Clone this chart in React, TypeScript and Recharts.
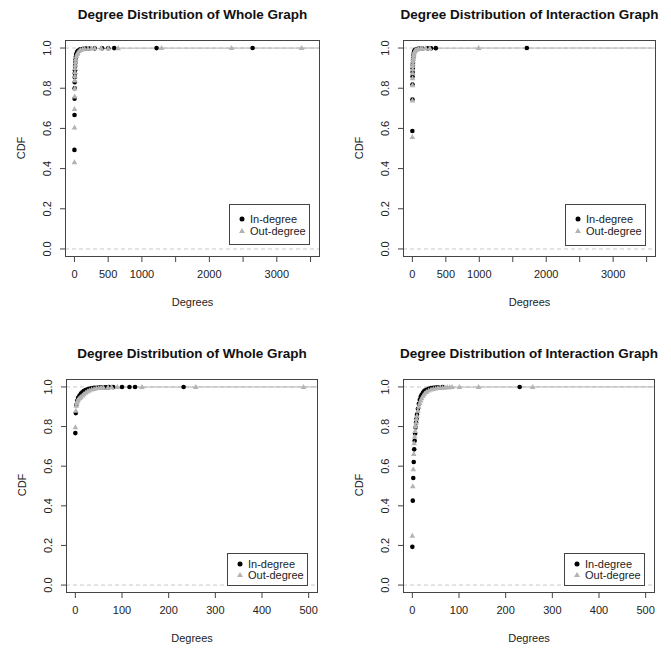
import React from "react";
import {
  ComposedChart,
  Line,
  Scatter,
  XAxis,
  YAxis,
  ReferenceLine
} from "recharts";

// ---- data (degree, CDF) ----

// top-left: whole graph, wide x range
const wholeInDeg = [0, 1, 2, 3, 4, 5, 6, 8, 10, 12, 15, 20, 25, 30, 40, 50, 60, 80, 100, 130, 170, 220, 300, 411, 500, 590, 1217, 2641];
const wholeInCdf = [0.493, 0.667, 0.748, 0.8, 0.83, 0.855, 0.875, 0.89, 0.91, 0.925, 0.94, 0.955, 0.965, 0.972, 0.98, 0.985, 0.988, 0.992, 0.994, 0.996, 0.997, 0.998, 0.9985, 0.999, 0.9993, 0.9996, 0.9998, 1];
const wholeOutDeg = [0, 1, 2, 3, 4, 5, 6, 8, 10, 12, 15, 20, 30, 40, 50, 70, 90, 120, 150, 200, 250, 300, 400, 500, 648, 1291, 2329, 3368];
const wholeOutCdf = [0.431, 0.605, 0.697, 0.759, 0.8, 0.838, 0.86, 0.88, 0.9, 0.915, 0.93, 0.945, 0.96, 0.97, 0.977, 0.985, 0.99, 0.994, 0.996, 0.997, 0.998, 0.9985, 0.999, 0.9993, 0.9995, 0.9997, 0.9998, 1];

// top-right: interaction graph, wide x range
const interInDeg = [0, 1, 2, 3, 4, 5, 6, 8, 10, 12, 15, 20, 25, 30, 40, 50, 70, 100, 150, 230, 280, 350, 1710];
const interInCdf = [0.587, 0.744, 0.818, 0.858, 0.881, 0.9, 0.915, 0.925, 0.94, 0.95, 0.96, 0.972, 0.98, 0.985, 0.99, 0.993, 0.995, 0.997, 0.998, 0.9985, 0.999, 0.9995, 1];
const interOutDeg = [0, 1, 2, 3, 4, 5, 6, 8, 10, 12, 15, 20, 25, 30, 40, 50, 70, 90, 120, 150, 200, 260, 990];
const interOutCdf = [0.557, 0.739, 0.815, 0.85, 0.875, 0.895, 0.91, 0.922, 0.935, 0.945, 0.955, 0.965, 0.973, 0.98, 0.986, 0.99, 0.993, 0.995, 0.997, 0.998, 0.999, 0.9995, 1];

// bottom-left: whole graph, x up to 500
const wholeInDeg2 = [0, 1, 2, 4, 6, 9, 12, 15, 18, 22, 26, 30, 35, 40, 45, 50, 55, 62, 67, 72, 81, 100, 116, 128, 232];
const wholeInCdf2 = [0.767, 0.868, 0.909, 0.93, 0.945, 0.957, 0.966, 0.973, 0.979, 0.984, 0.988, 0.991, 0.993, 0.995, 0.996, 0.997, 0.9975, 0.998, 0.9985, 0.9988, 0.999, 0.9993, 0.9995, 0.9997, 1];
const wholeOutDeg2 = [0, 1, 2, 3, 4, 5, 6, 8, 10, 12, 15, 18, 22, 26, 30, 35, 40, 45, 50, 55, 60, 70, 78, 90, 143, 258, 489];
const wholeOutCdf2 = [0.797, 0.88, 0.905, 0.918, 0.926, 0.932, 0.937, 0.942, 0.946, 0.95, 0.957, 0.963, 0.97, 0.977, 0.982, 0.987, 0.99, 0.993, 0.995, 0.996, 0.997, 0.998, 0.9985, 0.999, 0.9994, 0.9997, 1];

// bottom-right: interaction graph, x up to 500
const interInDeg2 = [0, 1, 2, 3, 4, 5, 6, 7, 8, 9, 10, 12, 14, 16, 18, 20, 23, 26, 30, 35, 40, 45, 50, 55, 65, 230];
const interInCdf2 = [0.193, 0.426, 0.54, 0.621, 0.685, 0.728, 0.765, 0.795, 0.82, 0.84, 0.86, 0.89, 0.915, 0.935, 0.95, 0.96, 0.972, 0.98, 0.986, 0.991, 0.994, 0.996, 0.997, 0.998, 0.999, 1];
const interOutDeg2 = [0, 1, 2, 3, 4, 5, 6, 7, 8, 9, 10, 12, 14, 16, 18, 20, 23, 26, 30, 35, 40, 45, 50, 55, 60, 65, 70, 75, 80, 85, 101, 142, 258];
const interOutCdf2 = [0.249, 0.499, 0.584, 0.662, 0.716, 0.75, 0.778, 0.8, 0.82, 0.838, 0.855, 0.88, 0.9, 0.918, 0.932, 0.943, 0.955, 0.965, 0.974, 0.982, 0.987, 0.99, 0.992, 0.994, 0.995, 0.996, 0.997, 0.998, 0.9985, 0.999, 0.9993, 0.9996, 1];

const wideTicks = [0, 500, 1000, 1500, 2000, 2500, 3000, 3500];
const wideLabelled = [0, 500, 1000, 2000, 3000];
const narrowTicks = [0, 100, 200, 300, 400, 500];
const yTicks = [0, 0.2, 0.4, 0.6, 0.8, 1.0];

const FONT = "'Liberation Sans', Arial, Helvetica, sans-serif";
const GRAY = "#b3b3b3";
const AXIS = "#444";

const pairs = (xs: number[], ys: number[]) => xs.map((x, i) => ({ x, y: ys[i] }));

// horizontal ecdf pieces only (no verticals), broken with nulls
const steps = (xs: number[], ys: number[], cap: number) =>
  xs.flatMap((x, i) =>
    i < xs.length - 1 && ys[i] < cap
      ? [{ x, y: ys[i] as number | null }, { x: xs[i + 1], y: ys[i] as number | null }, { x: xs[i + 1], y: null }]
      : []
  );

const Dot = (p: any) => <circle cx={p.cx} cy={p.cy} r={2.3} fill="#000" />;
const Tri = (p: any) => (
  <polygon
    points={`${p.cx},${p.cy - 3} ${p.cx - 2.8},${p.cy + 2} ${p.cx + 2.8},${p.cy + 2}`}
    fill={GRAY}
  />
);

const YTick = (p: any) => {
  const x = p.x - 9;
  const y = p.y;
  return (
    <text x={x} y={y} transform={`rotate(-90, ${x}, ${y})`} textAnchor="middle" fontSize={11} fill="#222" fontFamily={FONT}>
      {p.payload.value.toFixed(1)}
    </text>
  );
};

interface PanelProps {
  title: string;
  bx: number;
  by: number;
  bw: number;
  bh: number;
  xDomain: [number, number];
  ticks: number[];
  labelled: number[];
  inDeg: number[];
  inCdf: number[];
  outDeg: number[];
  outCdf: number[];
  legendTop: number;
  legendH: number;
  rowGap: number;
}

function Panel(props: PanelProps) {
  const { title, bx, by, bw, bh, xDomain, ticks, labelled, inDeg, inCdf, outDeg, outCdf, legendTop, legendH, rowGap } = props;
  const inData = pairs(inDeg, inCdf);
  const outData = pairs(outDeg, outCdf);
  const inSteps = steps(inDeg, inCdf, 0.998);
  const outSteps = steps(outDeg, outCdf, 2);
  // the out-degree ecdf keeps going at 1 after its last jump
  const tail = [{ x: outDeg[outDeg.length - 1], y: 1 }, { x: xDomain[1], y: 1 }];
  const cx = bx + bw / 2;
  const cy = by + bh / 2;
  const legendLeft = bx + bw - 91;

  return (
    <>
      <div style={{ position: "absolute", left: bx - 65, top: by - 40 }}>
        <ComposedChart
          width={bw + 80}
          height={bh + 108}
          margin={{ top: 40, right: 15, left: 5, bottom: 8 }}
        >
          <XAxis
            dataKey="x"
            type="number"
            domain={xDomain}
            allowDataOverflow
            ticks={ticks}
            interval={0}
            axisLine={false}
            tickLine={{ stroke: AXIS }}
            tickSize={5}
            tickMargin={8}
            height={60}
            tick={{ fontSize: 11, fill: "#222", fontFamily: FONT }}
            tickFormatter={(v: number) => (labelled.includes(v) ? String(v) : "")}
          />
          <YAxis
            dataKey="y"
            type="number"
            domain={[-0.04, 1.04]}
            allowDataOverflow
            ticks={yTicks}
            interval={0}
            axisLine={false}
            tickLine={{ stroke: AXIS }}
            tickSize={5}
            tickMargin={0}
            width={60}
            tick={<YTick />}
          />
          <ReferenceLine y={0} stroke="#c8c8c8" strokeDasharray="4 3" />
          <ReferenceLine y={1} stroke="#c8c8c8" strokeDasharray="4 3" />
          <Line data={inSteps} dataKey="y" stroke="#000" strokeWidth={1} dot={false} isAnimationActive={false} />
          <Line data={outSteps} dataKey="y" stroke={GRAY} strokeWidth={1} dot={false} isAnimationActive={false} />
          <Line data={tail} dataKey="y" stroke={GRAY} strokeWidth={1} dot={false} isAnimationActive={false} />
          <Scatter data={inData} dataKey="y" shape={Dot} isAnimationActive={false} />
          <Scatter data={outData} dataKey="y" shape={Tri} isAnimationActive={false} />
        </ComposedChart>
      </div>

      {/* plot box */}
      <div style={{ position: "absolute", left: bx, top: by, width: bw, height: bh, border: `1px solid ${AXIS}`, boxSizing: "border-box", pointerEvents: "none" }} />

      {/* title + axis labels */}
      <div style={{ position: "absolute", left: cx - 150, top: by - 33, width: 300, textAlign: "center", fontWeight: "bold", fontSize: 13.5, color: "#111", fontFamily: FONT }}>
        {title}
      </div>
      <div style={{ position: "absolute", left: cx - 60, top: by + bh + 39, width: 120, textAlign: "center", fontSize: 11, color: "#222", fontFamily: FONT }}>
        Degrees
      </div>
      <div style={{ position: "absolute", left: bx - 64, top: cy - 7, width: 40, textAlign: "center", fontSize: 11, color: "#222", fontFamily: FONT, transform: "rotate(-90deg)" }}>
        CDF
      </div>

      {/* legend */}
      <div style={{ position: "absolute", left: legendLeft, top: legendTop, width: 81, height: legendH, border: `1px solid ${AXIS}`, boxSizing: "border-box", background: "#fff", fontFamily: FONT, fontSize: 11, color: "#222" }}>
        <div style={{ position: "absolute", left: 8, top: legendH / 2 - rowGap / 2 - 7, lineHeight: "12px", display: "flex", alignItems: "center" }}>
          <svg width={8} height={8}><circle cx={4} cy={4} r={2.5} fill="#000" /></svg>
          <span style={{ marginLeft: 4 }}>In-degree</span>
        </div>
        <div style={{ position: "absolute", left: 8, top: legendH / 2 + rowGap / 2 - 7, lineHeight: "12px", display: "flex", alignItems: "center" }}>
          <svg width={8} height={8}><polygon points="4,1 1,6 7,6" fill={GRAY} /></svg>
          <span style={{ marginLeft: 4 }}>Out-degree</span>
        </div>
      </div>
    </>
  );
}

export default function App() {
  return (
    <div style={{ position: "absolute", left: 0, top: 0, width: 671, height: 649, background: "#fff", overflow: "hidden" }}>
      <Panel
        title="Degree Distribution of Whole Graph"
        bx={65} by={40} bw={255} bh={217}
        xDomain={[-140, 3640]} ticks={wideTicks} labelled={wideLabelled}
        inDeg={wholeInDeg} inCdf={wholeInCdf} outDeg={wholeOutDeg} outCdf={wholeOutCdf}
        legendTop={204} legendH={41} rowGap={12}
      />
      <Panel
        title="Degree Distribution of Interaction Graph"
        bx={403} by={40} bw={253} bh={217}
        xDomain={[-140, 3640]} ticks={wideTicks} labelled={wideLabelled}
        inDeg={interInDeg} inCdf={interInCdf} outDeg={interOutDeg} outCdf={interOutCdf}
        legendTop={204} legendH={42} rowGap={12}
      />
      <Panel
        title="Degree Distribution of Whole Graph"
        bx={66} by={379} bw={252} bh={214}
        xDomain={[-20, 520]} ticks={narrowTicks} labelled={narrowTicks}
        inDeg={wholeInDeg2} inCdf={wholeInCdf2} outDeg={wholeOutDeg2} outCdf={wholeOutCdf2}
        legendTop={553} legendH={33} rowGap={11}
      />
      <Panel
        title="Degree Distribution of Interaction Graph"
        bx={403} by={379} bw={252} bh={214}
        xDomain={[-20, 520]} ticks={narrowTicks} labelled={narrowTicks}
        inDeg={interInDeg2} inCdf={interInCdf2} outDeg={interOutDeg2} outCdf={interOutCdf2}
        legendTop={553} legendH={33} rowGap={11}
      />
    </div>
  );
}
